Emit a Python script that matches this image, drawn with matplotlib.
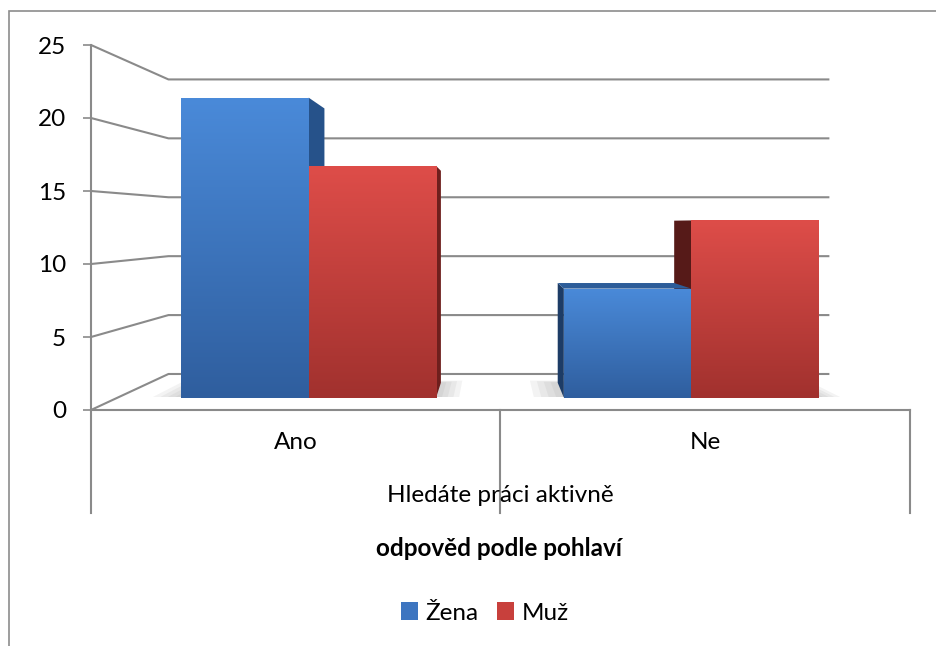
import matplotlib
matplotlib.use('Agg')
import matplotlib.pyplot as plt
from matplotlib.colors import LinearSegmentedColormap
from matplotlib.patches import Patch, Polygon, Rectangle
from matplotlib.transforms import Affine2D
import numpy as np

CATEGORIES = ['Ano', 'Ne']
SERIES_NAMES = ['Žena', 'Muž']
ZENA_VALUES = [22, 8]
MUZ_VALUES = [17, 13]
Y_TICKS = [0, 5, 10, 15, 20, 25]
AXIS_TITLE = 'Hledáte práci aktivně'
CHART_TITLE = 'odpověd podle pohlaví'

FONT = ['Lato', 'DejaVu Sans']
FONT_SIZE = 17.5
GRID_COLOR = '#8a8a8a'

# fake perspective: everything shrinks towards (VANISH_X, EYE_V) with depth t
VANISH_X = 0.98
EYE_V = 12.78
K_BACK = 0.807
T_FRONT = 0.342
T_BACK = 0.756
BAR_W = 0.333

STYLES = {
    'Žena': dict(top='#4a8ad9', bottom='#2f5e9e', side='#26528a', cap='#2d5d99'),
    'Muž': dict(top='#de4d49', bottom='#a1312e', side='#6e1f1d', cap='#8a2724'),
}
SIDE_COLORS = {('Žena', 1): '#1d3c66', ('Muž', 1): '#561a18'}


def depth_scale(t):
    return 1 - (1 - K_BACK) * t


def proj(x, v, t):
    k = depth_scale(t)
    return VANISH_X + (x - VANISH_X) * k, EYE_V + (v - EYE_V) * k


def main():
    plt.rcParams['font.family'] = FONT
    fig = plt.figure(figsize=(9.37, 6.46), dpi=100)
    W, H = 937, 646
    ax = fig.add_axes([91 / W, 1 - 410 / H, (910 - 91) / W, (410 - 45) / H])
    ax.patch.set_alpha(0)

    # outer chart border
    fig.add_artist(Rectangle((9 / W, -0.1), 1.2, 1 - 11 / H + 0.1, transform=fig.transFigure,
                             fill=False, edgecolor='#8c8c8c', linewidth=1.2))

    # back wall gridlines with diagonal connectors to the front axis
    for v in Y_TICKS:
        bx0, by0 = proj(0, v, 1)
        bx1, by1 = proj(2, v, 1)
        ax.plot([0, bx0, bx1], [v, by0, by1], color=GRID_COLOR, lw=1.5, zorder=1,
                clip_on=False, solid_capstyle='butt')

    # front floor edge, value axis and category separators
    ax.plot([0, 2], [0, 0], color=GRID_COLOR, lw=1.5, zorder=1, clip_on=False)
    ax.plot([0, 0], [-7.05, 25], color=GRID_COLOR, lw=1.5, zorder=1, clip_on=False)
    for xs in [1, 2]:
        ax.plot([xs, xs], [-7.05, 0], color=GRID_COLOR, lw=1.5, zorder=1, clip_on=False)

    k1 = depth_scale(T_FRONT)
    tr_front = Affine2D().translate(-VANISH_X, -EYE_V).scale(k1).translate(VANISH_X, EYE_V) + ax.transData

    grad = np.linspace(0, 1, 256).reshape(-1, 1)
    x_base = np.arange(len(CATEGORIES)) + 0.5

    # soft shadows on the floor under each group
    for c in range(len(CATEGORIES)):
        xl = x_base[c] - BAR_W
        xr = x_base[c] + BAR_W
        for e in [0.06, 0.045, 0.03, 0.015]:
            pts = [proj(xl - e * 1.3, 0, T_FRONT + 0.02), proj(xr + e, 0, T_FRONT + 0.02),
                   proj(xr + e, 0, T_BACK + e), proj(xl - e * 1.3, 0, T_BACK + e)]
            ax.add_patch(Polygon(pts, closed=True, facecolor='#7f7f7f', edgecolor='none',
                                 alpha=0.09, zorder=2))

    for i, (name, vals) in enumerate(zip(SERIES_NAMES, [ZENA_VALUES, MUZ_VALUES])):
        st = STYLES[name]
        xs = x_base + (i - 0.5) * BAR_W
        cmap = LinearSegmentedColormap.from_list(name, [st['bottom'], st['top']])
        bars = ax.bar(xs, vals, width=BAR_W, color=st['top'], linewidth=0,
                      transform=tr_front, zorder=5)
        for c, rect in enumerate(bars):
            x0 = rect.get_x()
            x1 = x0 + rect.get_width()
            h = rect.get_height()
            side_color = SIDE_COLORS.get((name, c), st['side'])
            # side face that can be seen from the vanishing point
            sx = x1 if x1 < VANISH_X else x0
            side = [proj(sx, 0, T_FRONT), proj(sx, h, T_FRONT), proj(sx, h, T_BACK), proj(sx, 0, T_BACK)]
            ax.add_patch(Polygon(side, closed=True, facecolor=side_color, edgecolor='none', zorder=3))
            if h < EYE_V:
                cap = [proj(x0, h, T_FRONT), proj(x1, h, T_FRONT), proj(x1, h, T_BACK), proj(x0, h, T_BACK)]
                ax.add_patch(Polygon(cap, closed=True, facecolor=st['cap'], edgecolor='none', zorder=4))
            im = ax.imshow(grad, extent=(x0, x1, 0, h), origin='lower', cmap=cmap, aspect='auto',
                           transform=tr_front, zorder=6, interpolation='bilinear')
            im.set_clip_path(rect)

    ax.set_xlim(0, 2)
    ax.set_ylim(0, 25)
    for sp in ax.spines.values():
        sp.set_visible(False)

    ax.set_yticks(Y_TICKS)
    ax.set_yticklabels([str(v) for v in Y_TICKS], fontsize=FONT_SIZE)
    ax.tick_params(axis='y', length=6, width=1.2, color=GRID_COLOR, pad=12)
    ax.set_xticks(x_base)
    ax.set_xticklabels(CATEGORIES, fontsize=FONT_SIZE)
    ax.tick_params(axis='x', length=0, pad=16)

    fig.text(500 / W, 1 - 496 / H, AXIS_TITLE, ha='center', va='center', fontsize=FONT_SIZE)
    fig.text(499 / W, 1 - 549 / H, CHART_TITLE, ha='center', va='center', fontsize=FONT_SIZE,
             fontweight='bold')

    handles = [Patch(facecolor='#3d75c0', label=SERIES_NAMES[0]),
               Patch(facecolor='#c8403c', label=SERIES_NAMES[1])]
    fig.legend(handles=handles, loc='center', bbox_to_anchor=(485 / W, 1 - 613 / H), ncol=2,
               frameon=False, fontsize=FONT_SIZE, handlelength=0.7, handleheight=0.7,
               handletextpad=0.3, columnspacing=0.75)

    fig.savefig('out.png', dpi=100)


if __name__ == '__main__':
    main()
